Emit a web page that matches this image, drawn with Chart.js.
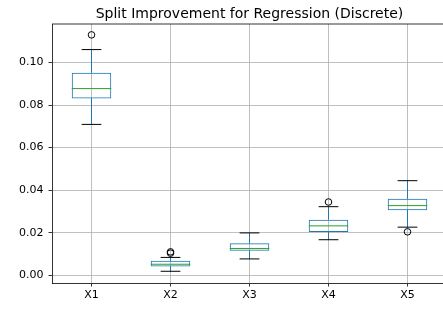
<!DOCTYPE html>
<html>
<head>
<meta charset="utf-8">
<script src="https://cdn.jsdelivr.net/npm/chart.js"></script>
<style>
html, body { margin: 0; padding: 0; overflow: hidden; background: #fff; }
</style>
</head>
<body>
<canvas id="myChart" width="452" height="309"></canvas>
<script>
// box plot stats
const categories = ['X1', 'X2', 'X3', 'X4', 'X5'];
const q1 = [0.0831, 0.0042, 0.0116, 0.0204, 0.0306];
const median = [0.0877, 0.0053, 0.0127, 0.0233, 0.0328];
const q3 = [0.0951, 0.0069, 0.0151, 0.0262, 0.0360];
const whiskerLow = [0.0709, 0.0020, 0.0078, 0.0168, 0.0227];
const whiskerHigh = [0.1060, 0.0085, 0.0200, 0.0323, 0.0445];
const outliers = [[0.1129], [0.0111, 0.0105], [], [0.0345], [0.0205]];
const yTicks = [0, 0.02, 0.04, 0.06, 0.08, 0.10];

const boxHalf = 0.25, capHalf = 0.125;

var medianPts = [], whiskerPts = [], capPts = [], outPts = [];
for (let i = 0; i < categories.length; i++) {
    let x = i + 1;
    medianPts.push({x: x - boxHalf, y: median[i]}, {x: x + boxHalf, y: median[i]}, {x: x, y: null});
    whiskerPts.push({x: x, y: q3[i]}, {x: x, y: whiskerHigh[i]}, {x: x, y: null});
    whiskerPts.push({x: x, y: q1[i]}, {x: x, y: whiskerLow[i]}, {x: x, y: null});
    capPts.push({x: x - capHalf, y: whiskerHigh[i]}, {x: x + capHalf, y: whiskerHigh[i]}, {x: x, y: null});
    capPts.push({x: x - capHalf, y: whiskerLow[i]}, {x: x + capHalf, y: whiskerLow[i]}, {x: x, y: null});
    outliers[i].forEach(v => outPts.push({x: x, y: v}));
}

const frame = {
    id: 'frame',
    afterDraw(chart) {
        const ctx = chart.ctx, a = chart.chartArea;
        ctx.save();
        ctx.strokeStyle = '#000';
        ctx.lineWidth = 0.8;
        ctx.beginPath();
        ctx.moveTo(a.left, a.top);
        ctx.lineTo(a.right, a.top);
        ctx.lineTo(a.right, a.bottom);
        ctx.stroke();
        ctx.fillStyle = '#000';
        ctx.font = '14px "DejaVu Sans"';
        ctx.textAlign = 'center';
        ctx.textBaseline = 'alphabetic';
        ctx.fillText('Split Improvement for Regression (Discrete)', (a.left + a.right) / 2, 18);
        ctx.restore();
    }
};

const ctx = document.getElementById('myChart').getContext('2d');
const myChart = new Chart(ctx, {
    type: 'bar',
    data: {
        datasets: [
            {
                type: 'scatter',
                data: outPts,
                pointStyle: 'circle',
                pointRadius: 3.3,
                borderColor: '#000',
                backgroundColor: 'rgba(0,0,0,0)',
                borderWidth: 1
            },
            {
                type: 'line',
                data: medianPts,
                borderColor: '#2ca02c',
                borderWidth: 1,
                pointRadius: 0,
                fill: false
            },
            {
                type: 'line',
                data: capPts,
                borderColor: '#000',
                borderWidth: 1,
                pointRadius: 0,
                fill: false
            },
            {
                type: 'line',
                data: whiskerPts,
                borderColor: '#1f77b4',
                borderWidth: 1,
                pointRadius: 0,
                fill: false
            },
            {
                type: 'bar',
                data: categories.map((c, i) => ({x: i + 1, y: [q1[i], q3[i]]})),
                backgroundColor: 'rgba(0,0,0,0)',
                borderColor: '#1f77b4',
                borderWidth: 1,
                borderSkipped: false,
                barPercentage: 0.5,
                categoryPercentage: 1.0
            }
        ]
    },
    options: {
        responsive: false,
        animation: false,
        layout: { padding: { top: 24, right: 3, left: 0, bottom: 0 } },
        plugins: { legend: { display: false }, tooltip: { enabled: false } },
        scales: {
            x: {
                type: 'linear',
                min: 0.5,
                max: 5.5,
                offset: false,
                afterBuildTicks: s => { s.ticks = categories.map((c, i) => ({value: i + 1})); },
                afterFit: s => { s.height = 26; },
                ticks: {
                    callback: v => categories[v - 1],
                    color: '#000',
                    font: { family: 'DejaVu Sans', size: 11 },
                    padding: 2,
                    maxRotation: 0,
                    autoSkip: false
                },
                grid: { offset: false, color: '#b0b0b0', lineWidth: 0.8, tickColor: '#000', tickLength: 3.5 },
                border: { color: '#000', width: 0.8 }
            },
            y: {
                min: -0.0035,
                max: 0.118,
                afterBuildTicks: s => { s.ticks = yTicks.map(v => ({value: v})); },
                afterFit: s => { s.width = 52; },
                ticks: {
                    callback: v => v.toFixed(2),
                    color: '#000',
                    font: { family: 'DejaVu Sans', size: 11 },
                    padding: 5
                },
                grid: { color: '#b0b0b0', lineWidth: 0.8, tickColor: '#000', tickLength: 3.5 },
                border: { color: '#000', width: 0.8 }
            }
        }
    },
    plugins: [frame]
});
</script>
</body>
</html>
